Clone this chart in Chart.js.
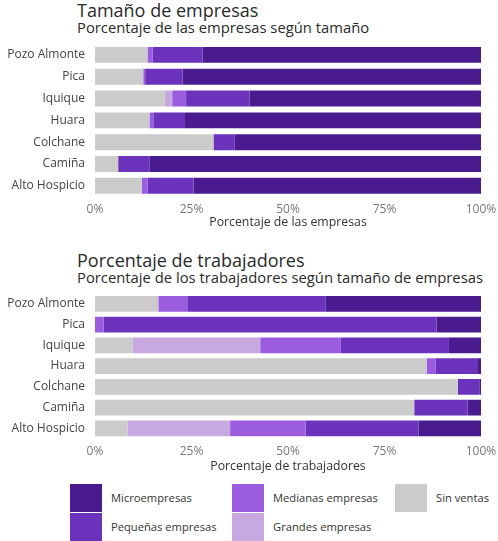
<!DOCTYPE html>
<html><head><meta charset="utf-8">
<script src="https://cdn.jsdelivr.net/npm/chart.js@4.4.1/dist/chart.umd.min.js"></script>
<style>
html,body{margin:0;padding:0;background:#fff;}
body{width:498px;height:541px;position:relative;overflow:hidden;font-family:"Open Sans",sans-serif;}
.t{position:absolute;left:77px;color:#2a2a2a;white-space:nowrap;line-height:1.2;}
.h1{font-size:18px;}
.h2{font-size:14.8px;}
.cv{position:absolute;left:0;width:498px;}
.lg{position:absolute;font-size:11.2px;color:#333;white-space:nowrap;}
.sw{position:absolute;width:32px;height:28px;}
</style></head><body>
<div class="t h1" style="top:0px">Tamaño de empresas</div>
<div class="t h2" style="top:19px">Porcentaje de las empresas según tamaño</div>
<div class="t h1" style="top:250px">Porcentaje de trabajadores</div>
<div class="t h2" style="top:269px">Porcentaje de los trabajadores según tamaño de empresas</div>
<div class="cv" style="top:0;height:236px"><canvas id="c1"></canvas></div>
<div class="cv" style="top:250px;height:230px"><canvas id="c2"></canvas></div>
<div id="legend"></div>
<script>
const categories = ["Pozo Almonte","Pica","Iquique","Huara","Colchane","Camiña","Alto Hospicio"];
const seriesNames = ["Sin ventas","Grandes empresas","Medianas empresas","Pequeñas empresas","Microempresas"];
const seriesColors = ["#cbcbcb","#c8a8e0","#9b5ce0","#6b33bb","#4a1b8f"];
// Tamaño de empresas (% de empresas)
const empSinVentas = [13.5, 12.5, 18.1, 14.1, 30.7, 6.0, 12.1];
const empGrandes   = [0.2, 0.0, 1.9, 0.0, 0.0, 0.0, 0.0];
const empMedianas  = [1.2, 0.5, 3.6, 1.0, 0.0, 0.0, 1.5];
const empPequenas  = [13.0, 9.7, 16.4, 8.0, 5.4, 8.2, 11.9];
const empMicro     = [72.1, 77.3, 60.0, 76.9, 63.9, 85.8, 74.5];
// Porcentaje de trabajadores
const trabSinVentas = [16.4, 0.0, 9.8, 85.9, 94.0, 82.7, 8.4];
const trabGrandes   = [0.0, 0.0, 33.0, 0.0, 0.0, 0.0, 26.6];
const trabMedianas  = [7.5, 2.2, 20.9, 2.3, 0.0, 0.0, 19.6];
const trabPequenas  = [35.9, 86.3, 28.0, 10.8, 5.7, 13.8, 29.2];
const trabMicro     = [40.2, 11.5, 8.3, 1.0, 0.3, 3.5, 16.2];
const xTicks = [0, 25, 50, 75, 100];

const FONT = "'Open Sans', sans-serif";
function build(id, series, xTitle, padTop, axisH, barPct){
  new Chart(document.getElementById(id), {
    type: 'bar',
    data: {
      labels: categories,
      datasets: series.map((d,i)=>({label: seriesNames[i], data: d, backgroundColor: seriesColors[i],
        borderColor: seriesColors[i], borderWidth: 0, barPercentage: barPct, categoryPercentage: 1}))
    },
    options: {
      indexAxis: 'y', responsive: true, maintainAspectRatio: false, animation: false,
      layout: {padding: {top: padTop, right: 17, bottom: 0, left: 0}},
      plugins: {legend: {display: false}, tooltip: {enabled: false}},
      scales: {
        y: {stacked: true, grid: {display: false, drawTicks: false}, border: {display: false},
            ticks: {color: '#444', font: {family: FONT, size: 12}, padding: 10},
            afterFit: s => { s.width = 95; }},
        x: {stacked: true, min: 0, max: 100, grid: {display: false, drawTicks: false}, border: {display: false},
            afterBuildTicks: s => { s.ticks = xTicks.map(v=>({value: v})); },
            ticks: {color: '#777', font: {family: FONT, size: 12}, padding: 6, callback: v => v + '%'},
            title: {display: true, text: xTitle, color: '#333', font: {family: FONT, size: 12.3}, padding: {top: 0, bottom: 6}},
            afterFit: s => { s.height = axisH; s.paddingRight = 0; s.paddingLeft = 0; }}
      }
    }
  });
}
build('c1', [empSinVentas, empGrandes, empMedianas, empPequenas, empMicro], 'Porcentaje de las empresas', 44, 39.3, 0.73);
build('c2', [trabSinVentas, trabGrandes, trabMedianas, trabPequenas, trabMicro], 'Porcentaje de trabajadores', 43.4, 41.3, 0.76);

// legend
const legendItems = [
  {i:4, x:70, y:484}, {i:3, x:70, y:513},
  {i:2, x:232, y:484}, {i:1, x:232, y:513},
  {i:0, x:395, y:484}
];
const lg = document.getElementById('legend');
legendItems.forEach(it=>{
  const sw = document.createElement('div'); sw.className='sw';
  sw.style.left = it.x+'px'; sw.style.top = it.y+'px'; sw.style.background = seriesColors[it.i];
  lg.appendChild(sw);
  const tx = document.createElement('div'); tx.className='lg';
  tx.style.left = (it.x+41)+'px'; tx.style.top = (it.y+6)+'px'; tx.textContent = seriesNames[it.i];
  lg.appendChild(tx);
});
</script>
</body></html>
